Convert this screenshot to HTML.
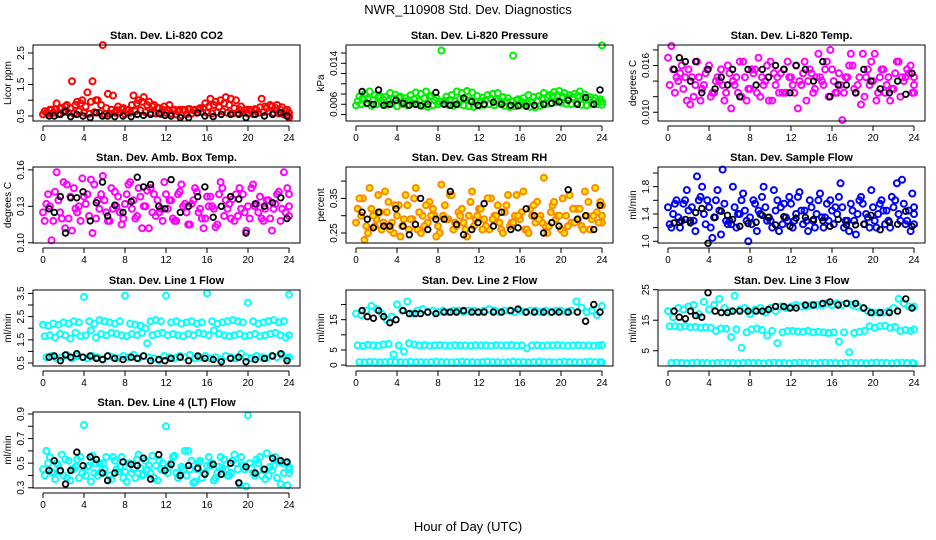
<!DOCTYPE html>
<html><head><meta charset="utf-8"><title>NWR_110908 Std. Dev. Diagnostics</title>
<style>
html,body{margin:0;padding:0;background:#fff;}
svg{display:block;font-family:"Liberation Sans",Arial,sans-serif;}
</style></head>
<body>
<svg id="chart" width="936" height="540" viewBox="0 0 936 540" xmlns="http://www.w3.org/2000/svg">
<text x="468" y="14" text-anchor="middle" font-size="13">NWR_110908 Std. Dev. Diagnostics</text>
<text x="468" y="531" text-anchor="middle" font-size="13">Hour of Day (UTC)</text>
</svg>
<script>
// ---- shared hour arrays ----
const blackHours = [0.6,1.1,1.7,2.2,2.7,3.3,3.9,4.6,5.2,5.8,6.3,7.0,7.8,8.6,9.2,9.8,10.5,11.3,11.9,12.5,13.4,14.2,15.1,15.8,16.6,17.4,18.3,19.1,19.8,20.7,21.6,22.4,23.2,23.8];
const xTicks = [0,4,8,12,16,20,24];

// ---- P1 CO2 ----
const co2A = [0.55,0.58,0.6,0.56,0.62,0.6,0.58,0.65,0.6,0.57,0.62,0.6,0.55,0.58,0.6,0.62,0.56,0.6,0.65,0.68,0.62,0.6,0.58,0.56,0.6,0.58,0.55,0.52,0.55,0.58,0.6,0.62,0.6,0.58,0.62,0.65,0.6,0.58,0.6,0.62,0.58,0.56,0.6,0.62,0.65,0.6,0.58,0.55,0.5];
const co2B = [0.65,0.7,0.72,0.75,0.8,0.75,0.85,0.9,0.8,0.95,1.0,0.85,0.75,0.7,0.68,0.72,0.7,0.85,0.9,0.95,0.85,0.8,0.75,0.7,0.7,0.68,0.65,0.7,0.72,0.68,0.7,0.75,0.8,0.85,0.78,0.9,0.85,0.75,0.7,0.68,0.7,0.72,0.78,0.8,0.85,0.75,0.7,0.65,0.6];
const co2C = [0.6,0.7,0.9,0.75,0.85,1.6,0.95,1.0,1.25,1.6,1.0,2.75,1.2,1.15,0.8,0.75,0.7,1.15,1.0,1.1,0.95,0.85,0.75,0.8,0.85,0.7,0.7,0.68,0.72,0.7,0.75,0.9,1.05,0.95,1.0,1.1,1.05,1.0,0.8,0.7,0.65,0.7,1.05,0.75,0.8,0.85,0.78,0.7,0.45];
const co2Black = [0.5,0.5,0.55,0.65,0.48,0.55,0.5,0.45,0.6,0.5,0.5,0.48,0.5,0.48,0.55,0.52,0.55,0.58,0.52,0.5,0.45,0.45,0.6,0.5,0.48,0.55,0.55,0.55,0.45,0.55,0.5,0.55,0.6,0.5];

// ---- P2 Pressure ----
const presA = [0.0058,0.006,0.0062,0.0057,0.006,0.0063,0.0059,0.0061,0.0056,0.006,0.0058,0.0062,0.006,0.0057,0.0055,0.0058,0.006,0.0062,0.0059,0.0057,0.006,0.0058,0.0056,0.0055,0.0057,0.0059,0.006,0.0058,0.0061,0.0057,0.0055,0.0056,0.0058,0.006,0.0055,0.0054,0.0057,0.006,0.0062,0.0064,0.0063,0.0061,0.006,0.0062,0.0059,0.0058,0.0061,0.006,0.0059];
const presB = [0.0066,0.0072,0.007,0.0068,0.0074,0.0069,0.0067,0.0071,0.0073,0.0066,0.0068,0.007,0.0066,0.0072,0.0075,0.0068,0.0065,0.0067,0.0069,0.0066,0.0071,0.007,0.0068,0.0064,0.0066,0.0069,0.0071,0.0067,0.0065,0.0064,0.0066,0.0068,0.0065,0.0063,0.0064,0.0067,0.0072,0.0074,0.0076,0.0078,0.0075,0.0072,0.0074,0.0077,0.0073,0.007,0.0068,0.0066,0.0065];
const presC = [0.0075,0.008,0.0085,0.0078,0.0076,0.0074,0.0082,0.0079,0.0075,0.0072,0.0078,0.0083,0.008,0.0085,0.0077,0.0073,0.0165,0.0075,0.0078,0.0085,0.0082,0.0086,0.0083,0.0076,0.0073,0.0078,0.008,0.0082,0.0074,0.0072,0.0155,0.007,0.0072,0.0078,0.0074,0.0076,0.0082,0.0078,0.0084,0.0086,0.0082,0.0078,0.008,0.0085,0.0079,0.0074,0.0072,0.007,0.0175];
const presBlack = [0.0085,0.0062,0.006,0.0088,0.0058,0.006,0.0068,0.0062,0.0058,0.006,0.0057,0.006,0.0083,0.006,0.0058,0.006,0.0072,0.0065,0.0058,0.006,0.0064,0.006,0.0058,0.0057,0.0056,0.0058,0.006,0.0062,0.0065,0.0068,0.006,0.0073,0.006,0.0088];

// ---- P3 Li-820 Temp ----
const tempA = [0.017,0.0155,0.014,0.013,0.0155,0.012,0.0145,0.0135,0.016,0.0125,0.014,0.0115,0.015,0.0135,0.0165,0.0145,0.013,0.0155,0.012,0.014,0.0165,0.0135,0.015,0.0125,0.0145,0.016,0.0135,0.0115,0.015,0.0145,0.014,0.0165,0.0155,0.0125,0.009,0.0145,0.016,0.0135,0.0175,0.0155,0.014,0.0125,0.0155,0.0145,0.013,0.0165,0.014,0.015,0.0135];
const tempB = [0.0135,0.0125,0.015,0.0145,0.011,0.0135,0.0115,0.015,0.012,0.014,0.0155,0.0125,0.0105,0.0145,0.012,0.0115,0.0155,0.0125,0.0145,0.016,0.0115,0.0145,0.0125,0.0165,0.0135,0.0105,0.015,0.014,0.0125,0.0175,0.0135,0.012,0.014,0.015,0.0125,0.016,0.013,0.0145,0.012,0.0135,0.0175,0.0145,0.0125,0.0115,0.015,0.012,0.0145,0.016,0.0125];
const tempC = [0.0185,0.0145,0.016,0.0115,0.0145,0.0165,0.013,0.0155,0.0125,0.0145,0.0135,0.016,0.014,0.0125,0.0165,0.013,0.015,0.017,0.0135,0.0115,0.015,0.0125,0.0155,0.0145,0.0125,0.014,0.0165,0.0155,0.013,0.0145,0.0155,0.018,0.0125,0.0135,0.0145,0.0175,0.0125,0.011,0.0145,0.0165,0.0115,0.0155,0.0135,0.013,0.0165,0.0145,0.0155,0.0125,0.0145];
const tempBlack = [0.0155,0.017,0.0165,0.014,0.0165,0.0125,0.0155,0.013,0.0145,0.0135,0.0155,0.012,0.0155,0.0135,0.0155,0.0145,0.016,0.0155,0.0125,0.016,0.0155,0.014,0.0165,0.012,0.0135,0.0135,0.0125,0.0155,0.014,0.013,0.0125,0.014,0.0123,0.015];

// ---- P4 Amb Box Temp ----
const boxA = [0.125,0.14,0.118,0.135,0.15,0.12,0.145,0.13,0.138,0.122,0.148,0.128,0.135,0.118,0.142,0.125,0.132,0.15,0.12,0.138,0.13,0.145,0.122,0.128,0.14,0.135,0.118,0.148,0.125,0.132,0.142,0.12,0.138,0.13,0.115,0.145,0.128,0.136,0.122,0.14,0.13,0.148,0.125,0.118,0.135,0.128,0.142,0.158,0.13];
const boxB = [0.118,0.13,0.142,0.125,0.112,0.138,0.128,0.118,0.132,0.152,0.12,0.14,0.125,0.145,0.13,0.115,0.14,0.128,0.122,0.112,0.143,0.125,0.135,0.118,0.128,0.12,0.14,0.13,0.115,0.135,0.125,0.112,0.13,0.128,0.14,0.122,0.132,0.118,0.145,0.125,0.12,0.13,0.138,0.128,0.12,0.132,0.118,0.125,0.14];
const boxC = [0.132,0.102,0.158,0.12,0.148,0.11,0.125,0.153,0.14,0.108,0.135,0.155,0.118,0.128,0.138,0.12,0.148,0.135,0.145,0.13,0.112,0.14,0.125,0.15,0.135,0.118,0.142,0.132,0.115,0.145,0.128,0.12,0.138,0.113,0.15,0.135,0.12,0.14,0.128,0.11,0.145,0.132,0.12,0.135,0.11,0.14,0.128,0.145,0.122];
const boxBlack = [0.128,0.125,0.138,0.108,0.137,0.137,0.142,0.118,0.133,0.15,0.122,0.131,0.125,0.134,0.154,0.146,0.148,0.13,0.128,0.152,0.125,0.13,0.138,0.146,0.121,0.13,0.138,0.136,0.108,0.132,0.13,0.133,0.137,0.12];

// ---- P5 Gas Stream RH ----
const rhA = [0.28,0.3,0.27,0.32,0.29,0.26,0.31,0.28,0.3,0.27,0.33,0.29,0.26,0.3,0.28,0.32,0.27,0.3,0.29,0.26,0.31,0.28,0.3,0.27,0.32,0.29,0.26,0.3,0.28,0.31,0.27,0.3,0.29,0.26,0.32,0.28,0.3,0.27,0.31,0.29,0.26,0.3,0.28,0.32,0.27,0.3,0.29,0.31,0.28];
const rhB = [0.32,0.35,0.25,0.3,0.36,0.28,0.34,0.25,0.33,0.29,0.26,0.35,0.31,0.27,0.34,0.3,0.25,0.33,0.36,0.28,0.3,0.26,0.34,0.29,0.32,0.27,0.35,0.3,0.26,0.33,0.28,0.36,0.31,0.26,0.3,0.34,0.28,0.25,0.33,0.3,0.35,0.27,0.32,0.29,0.26,0.34,0.3,0.28,0.33];
const rhC = [0.35,0.23,0.38,0.27,0.31,0.37,0.26,0.33,0.24,0.36,0.29,0.38,0.25,0.33,0.3,0.24,0.39,0.29,0.36,0.27,0.32,0.24,0.37,0.3,0.26,0.35,0.29,0.33,0.25,0.36,0.28,0.3,0.37,0.25,0.33,0.29,0.41,0.27,0.34,0.3,0.25,0.36,0.28,0.32,0.37,0.26,0.38,0.34,0.3];
const rhBlack = [0.31,0.29,0.265,0.31,0.27,0.27,0.32,0.27,0.245,0.275,0.35,0.26,0.29,0.29,0.37,0.275,0.245,0.26,0.28,0.335,0.27,0.31,0.26,0.265,0.32,0.3,0.25,0.28,0.27,0.375,0.29,0.3,0.26,0.33];

// ---- P6 Sample Flow ----
const sfA = [1.5,1.4,1.35,1.55,1.45,1.3,1.6,1.4,1.5,1.35,1.45,1.55,1.3,1.5,1.4,1.45,1.35,1.55,1.4,1.5,1.3,1.45,1.5,1.35,1.55,1.4,1.45,1.3,1.5,1.4,1.35,1.55,1.45,1.4,1.5,1.3,1.45,1.4,1.55,1.35,1.5,1.4,1.45,1.3,1.5,1.4,1.55,1.45,1.4];
const sfB = [1.25,1.55,1.2,1.6,1.3,1.15,1.65,1.25,1.2,1.6,1.1,1.3,1.25,1.2,1.6,1.3,1.25,1.15,1.65,1.3,1.2,1.6,1.25,1.3,1.2,1.65,1.25,1.15,1.3,1.6,1.2,1.3,1.25,1.65,1.2,1.15,1.3,1.6,1.25,1.2,1.3,1.55,1.25,1.2,1.6,1.3,1.25,1.15,1.25];
const sfC = [1.2,1.6,1.3,1.75,1.5,1.95,1.8,1.6,1.05,1.75,2.05,1.25,1.8,1.4,1.7,1.0,1.6,1.45,1.8,1.35,1.75,1.15,1.55,1.65,1.3,1.72,1.45,1.6,1.2,1.7,1.35,1.6,1.5,1.85,1.3,1.55,1.1,1.65,1.4,1.75,1.2,1.6,1.45,1.65,1.85,1.9,1.3,1.7,1.5];
const sfBlack = [1.27,1.28,1.32,1.27,1.42,1.48,0.97,1.35,1.44,1.38,1.32,1.22,1.26,1.28,1.38,1.35,1.24,1.36,1.22,1.34,1.35,1.32,1.3,1.22,1.32,1.24,1.24,1.25,1.38,1.17,1.28,1.25,1.44,1.22];

// ---- P7 Line 1 Flow ----
const l1A = [2.15,2.1,2.2,2.15,2.25,2.2,2.3,2.25,3.35,2.3,2.2,2.35,2.3,2.25,2.2,2.3,3.4,2.2,2.15,2.1,2.0,2.3,2.35,2.3,3.4,2.25,2.3,2.2,2.25,2.3,2.2,2.25,3.5,2.3,2.2,2.25,2.3,2.35,2.3,2.25,3.1,2.3,2.2,2.25,2.3,2.35,2.25,2.3,3.45];
const l1B = [1.65,1.7,1.6,1.75,1.7,1.55,1.8,1.65,1.7,1.9,1.6,1.75,1.7,1.8,1.75,1.7,1.65,1.75,1.7,1.8,1.35,1.7,1.75,1.8,1.7,1.75,1.7,1.65,1.75,1.7,1.8,1.75,1.7,1.9,1.75,1.7,1.65,1.7,1.75,1.65,1.7,1.75,1.65,1.7,1.75,1.8,1.7,1.6,1.7];
const l1C = [0.75,0.8,0.7,0.75,0.85,0.7,0.8,0.75,0.7,0.8,0.75,0.65,0.8,0.75,0.7,0.8,0.75,0.85,0.7,0.8,0.75,0.7,0.6,0.8,0.75,0.7,0.8,0.75,0.85,0.7,0.75,0.8,0.7,0.75,0.65,0.8,0.75,0.7,0.9,0.75,0.7,0.8,0.75,0.7,0.8,0.75,0.85,0.7,0.75];
const l1Black = [0.75,0.8,0.6,0.85,0.75,0.9,0.75,0.8,0.7,0.65,0.8,0.7,0.65,0.75,0.7,0.8,0.6,0.65,0.6,0.7,0.75,0.6,0.8,0.7,0.65,0.55,0.7,0.75,0.55,0.65,0.7,0.8,0.9,0.6];

// ---- P8 Line 2 Flow ----
const l2A = [17,16.5,18,19.5,18.5,17,15,16,20,18,21,17,18,18.5,17.5,18,17.5,18,17.5,18,18,17.5,18,18,17.5,18,18.5,18,17.5,18,18,17.5,18,17.5,18,18,17.5,18,17.5,18,18,17.5,18,21,19,17.5,18,16.5,19.5];
const l2B = [6.5,6.3,6.7,6.5,6.4,6.8,7.0,3.5,6.5,4.5,7.2,6.8,6.5,6.6,6.4,6.5,6.6,6.5,6.4,6.6,6.5,6.5,6.4,6.6,6.5,6.5,6.4,6.6,6.5,6.5,6.6,6.4,6.5,5.5,6.5,6.6,6.4,6.5,6.5,6.6,6.5,6.4,6.5,6.6,6.5,6.5,6.4,6.5,6.6];
const l2C = [1,0.9,1.1,1,0.9,1,1.1,1,1,0.9,1.1,1,1,0.9,1,1.1,1,1,0.9,1,1.1,1,1,0.9,1,1.1,1,1,0.9,1,1.1,1,1,0.9,1,1.1,1,1,0.9,1,1.1,1,1,0.9,1,1.1,1,1,0.9];
const l2Black = [18,16,15.5,18,16,14,15,18,17,17,17,17.5,17,17.5,17.5,17.5,18,17.5,17.5,17.5,17.5,17.5,18,18.5,17.5,17.5,17.5,17.5,17.5,17.5,17.5,14.5,20,17.5];

// ---- P9 Line 3 Flow ----
const l3A = [18,16,19,18.5,19.5,20,17,21,18.5,20,22,19,18,23,18.5,19,17,18.5,19,17.5,19,18,19.5,19,19.5,20,19.5,19.5,20,20,20,20.5,20,20.5,20,20.5,20,19.5,19,18,17.5,17.5,17.5,18,19,22,20.5,19.5,19.5];
const l3B = [13,13,12.8,13,12.7,12.8,12.5,12.7,12.5,11.5,12.3,12.2,9.5,12,6,11,12,12.3,11.8,10,11.5,7.5,11,11.5,11.5,11.3,11.2,11.5,11,11.2,11,10.8,11,8,11,4.5,10.8,11.2,11.5,13,12.5,13,13.2,12.5,12.8,11.5,11.8,11.5,12];
const l3C = [1,1.1,1,0.9,1,1.1,1,1,0.9,1,1.1,1,1,0.9,1,1.1,1,1,0.9,1,1.1,1,1,0.9,1,1.1,1,1,0.9,1,1.1,1,1,0.9,1,1.1,1,1,0.9,1,1.1,1,1,0.9,1,1.1,1,1,0.9];
const l3Black = [18,16,15.5,18,16.5,16,24,18,17.5,17.5,18,18,18,18,18,18.5,19.5,19.5,19,19,20,20,20.5,21,20,20.5,20.5,19,17.5,17.5,17.5,18,22,19];

// ---- P10 Line 4 (LT) Flow ----
const l4A = [0.45,0.5,0.42,0.48,0.4,0.52,0.45,0.38,0.81,0.48,0.42,0.5,0.45,0.4,0.52,0.47,0.43,0.5,0.38,0.46,0.52,0.42,0.48,0.45,0.8,0.5,0.42,0.47,0.4,0.52,0.45,0.38,0.48,0.5,0.42,0.46,0.4,0.52,0.45,0.48,0.89,0.42,0.5,0.45,0.4,0.48,0.52,0.42,0.47];
const l4B = [0.4,0.55,0.37,0.43,0.53,0.36,0.47,0.55,0.4,0.35,0.5,0.43,0.55,0.37,0.45,0.55,0.35,0.42,0.53,0.4,0.45,0.56,0.36,0.5,0.42,0.55,0.38,0.45,0.6,0.34,0.5,0.42,0.55,0.36,0.47,0.53,0.4,0.57,0.33,0.45,0.5,0.4,0.55,0.37,0.47,0.55,0.33,0.5,0.42];
const l4C = [0.6,0.43,0.5,0.57,0.38,0.45,0.53,0.42,0.47,0.56,0.4,0.5,0.36,0.55,0.43,0.38,0.5,0.45,0.57,0.41,0.48,0.38,0.52,0.44,0.47,0.56,0.4,0.6,0.45,0.35,0.52,0.42,0.48,0.38,0.55,0.45,0.42,0.5,0.55,0.31,0.46,0.53,0.4,0.58,0.44,0.38,0.5,0.32,0.45];
const l4Black = [0.44,0.52,0.44,0.33,0.44,0.59,0.48,0.55,0.53,0.42,0.36,0.42,0.51,0.49,0.48,0.54,0.37,0.57,0.44,0.49,0.4,0.48,0.46,0.41,0.49,0.41,0.5,0.34,0.47,0.42,0.45,0.54,0.52,0.51];

// ---- panel definitions (layout + references to data) ----
const panels = [
 {key:"co2",title:"Stan. Dev. Li-820 CO2",ylab:"Licor ppm",col:0,row:0,lo:0.341,hi:2.754,ticks:[0.5,1,1.5,2,2.5],labels:["0.5","1.5","2.5"],color:"#ff0000",fill:"none",series:[co2A,co2B,co2C],black:co2Black},
 {key:"pressure",title:"Stan. Dev. Li-820 Pressure",ylab:"kPa",col:1,row:0,lo:0.00274,hi:0.01757,ticks:[0.004,0.006,0.008,0.010,0.012,0.014,0.016],labels:["0.006","0.014"],color:"#00ee00",fill:"none",series:[presA,presB,presC],black:presBlack},
 {key:"li820-temp",title:"Stan. Dev. Li-820 Temp.",ylab:"degrees C",col:2,row:0,lo:0.00888,hi:0.01863,ticks:[0.010,0.012,0.014,0.016,0.018],labels:["0.010","0.016"],color:"#ff00ff",fill:"none",series:[tempA,tempB,tempC],black:tempBlack},
 {key:"box-temp",title:"Stan. Dev. Amb. Box Temp.",ylab:"degrees C",col:0,row:1,lo:0.0998,hi:0.1624,ticks:[0.10,0.13,0.16],labels:["0.10","0.13","0.16"],color:"#ff00ff",fill:"none",series:[boxA,boxB,boxC],black:boxBlack},
 {key:"rh",title:"Stan. Dev. Gas Stream RH",ylab:"percent",col:1,row:1,lo:0.2211,hi:0.4408,ticks:[0.25,0.30,0.35,0.40],labels:["0.25","0.35"],color:"#ff8800",fill:"#ffee00",series:[rhA,rhB,rhC],black:rhBlack},
 {key:"sample-flow",title:"Stan. Dev. Sample Flow",ylab:"ml/min",col:2,row:1,lo:0.975,hi:2.088,ticks:[1.0,1.2,1.4,1.6,1.8,2.0],labels:["1.0","1.4","1.8"],color:"#0000ff",fill:"none",series:[sfA,sfB,sfC],black:sfBlack},
 {key:"line1",title:"Stan. Dev. Line 1 Flow",ylab:"ml/min",col:0,row:2,lo:0.371,hi:3.647,ticks:[0.5,1,1.5,2,2.5,3,3.5],labels:["0.5","1.5","2.5","3.5"],color:"#00ffff",fill:"none",series:[l1A,l1B,l1C],black:l1Black},
 {key:"line2",title:"Stan. Dev. Line 2 Flow",ylab:"ml/min",col:1,row:2,lo:-0.3,hi:24.8,ticks:[0,5,10,15,20],labels:["0","5","15"],color:"#00ffff",fill:"none",series:[l2A,l2B,l2C],black:l2Black},
 {key:"line3",title:"Stan. Dev. Line 3 Flow",ylab:"ml/min",col:2,row:2,lo:0.0,hi:24.9,ticks:[5,15,25],labels:["5","15","25"],color:"#00ffff",fill:"none",series:[l3A,l3B,l3C],black:l3Black},
 {key:"line4",title:"Stan. Dev. Line 4 (LT) Flow",ylab:"ml/min",col:0,row:3,lo:0.298,hi:0.916,ticks:[0.3,0.4,0.5,0.6,0.7,0.8,0.9],labels:["0.3","0.5","0.7","0.9"],color:"#00ffff",fill:"none",series:[l4A,l4B,l4C],black:l4Black}
];

const NS = "http://www.w3.org/2000/svg";
const svg = document.getElementById("chart");
const colLeft = [33, 346, 658];
const rowTop = [45, 167, 290, 412];
const boxW = 267, boxH = 76;
const seriesOffset = [0, 0.17, 0.33];

function el(tag, parent){ const e = document.createElementNS(NS, tag); parent.appendChild(e); return e; }

panels.forEach(function(p){
  const L = colLeft[p.col], T = rowTop[p.row], B = T + boxH, R = L + boxW;
  const xs = function(h){ return L + 10 + (h / 24) * 246; };
  const ys = function(v){ return B - (v - p.lo) / (p.hi - p.lo) * boxH; };
  const g = el("g", svg);
  
  

  const title = el("text", g);
  
  
  title.setAttribute("x", L + boxW/2); title.setAttribute("y", T - 6);
  title.setAttribute("text-anchor","middle"); title.setAttribute("font-size","11"); title.setAttribute("font-weight","bold");
  title.textContent = p.title;

  const pts = el("g", g);
  
  
  p.series.forEach(function(arr, si){
    arr.forEach(function(v, i){
      const h = Math.min(24, i * 0.5 + seriesOffset[si]);
      const c = el("circle", pts);
      
      
      c.setAttribute("cx", xs(h).toFixed(1)); c.setAttribute("cy", ys(v).toFixed(1)); c.setAttribute("r", "3");
      c.setAttribute("fill", p.fill); c.setAttribute("stroke", p.color); c.setAttribute("stroke-width", "2");
    });
  });
  const bpts = el("g", g);
  
  
  p.black.forEach(function(v, i){
    if (blackHours[i] === undefined) return;
    const c = el("circle", bpts);
    
    
    c.setAttribute("cx", xs(blackHours[i]).toFixed(1)); c.setAttribute("cy", ys(v).toFixed(1)); c.setAttribute("r", "2.8");
    c.setAttribute("fill", "none"); c.setAttribute("stroke", "#000"); c.setAttribute("stroke-width", "1.8");
  });

  const box = el("rect", g);
  
  
  box.setAttribute("x", L); box.setAttribute("y", T); box.setAttribute("width", boxW); box.setAttribute("height", boxH);
  box.setAttribute("fill","none"); box.setAttribute("stroke","#000"); box.setAttribute("stroke-width","1");

  const xa = el("g", g);
  
  
  const xl = el("line", xa);
  
  
  xl.setAttribute("x1", xs(0)); xl.setAttribute("x2", xs(24)); xl.setAttribute("y1", B + 5); xl.setAttribute("y2", B + 5); xl.setAttribute("stroke","#000");
  xTicks.forEach(function(t){
    const tk = el("line", xa);
    
    
    tk.setAttribute("x1", xs(t)); tk.setAttribute("x2", xs(t)); tk.setAttribute("y1", B + 5); tk.setAttribute("y2", B + 10); tk.setAttribute("stroke","#000");
    const tl = el("text", xa);
    
    
    tl.setAttribute("x", xs(t)); tl.setAttribute("y", B + 20); tl.setAttribute("text-anchor","middle"); tl.setAttribute("font-size","10");
    tl.textContent = String(t);
  });

  const ya = el("g", g);
  
  
  p.ticks.forEach(function(t){
    const tk = el("line", ya);
    
    
    tk.setAttribute("x1", L - 5); tk.setAttribute("x2", L); tk.setAttribute("y1", ys(t)); tk.setAttribute("y2", ys(t)); tk.setAttribute("stroke","#000");
  });
  p.labels.forEach(function(s){
    const yy = ys(parseFloat(s));
    const tl = el("text", ya);
    
    
    tl.setAttribute("transform", "translate(" + (L - 9) + "," + yy.toFixed(1) + ") rotate(-90)");
    tl.setAttribute("text-anchor","middle"); tl.setAttribute("font-size","10");
    tl.textContent = s;
  });
  const yt = el("text", ya);
  
  
  yt.setAttribute("transform", "translate(" + (L - 22) + "," + (T + boxH/2) + ") rotate(-90)");
  yt.setAttribute("text-anchor","middle"); yt.setAttribute("font-size","10");
  yt.textContent = p.ylab;
});
</script>
</body></html>
